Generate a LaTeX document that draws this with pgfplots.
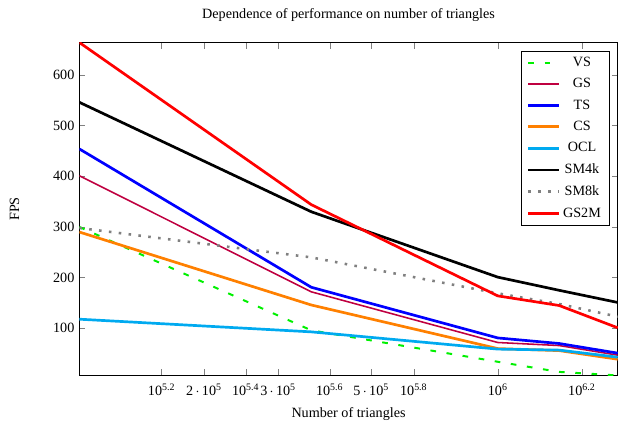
\documentclass[border=0pt]{standalone}
\usepackage{fontspec}
\setmainfont{Liberation Serif}
\usepackage{pgfplots}
\pgfplotsset{compat=1.18}
\usepackage{pgfplotstable}

\definecolor{vsgreen}{RGB}{0,240,0}
\definecolor{gspurple}{RGB}{191,0,64}
\definecolor{csorange}{RGB}{255,128,0}
\definecolor{oclcyan}{RGB}{0,170,240}

% triangles vs FPS for each shader variant
\pgfplotstableread{
tri     VS   GS   TS   CS   OCL  SM4k SM8k GS2M
101000  300  401  454  290  118  546  298  664
360000  96   172  181  146  93   330  240  344
1000000 34   72   81   60   59   201  169  164
1400000 14   66   70   56   57   175  148  145
1930000 7    47   51   39   43   151  123  101
}\perf

\begin{document}
\begin{tikzpicture}
\begin{axis}[
  xmode=log,
  scale only axis,
  width=380pt, height=235pt,
  xmin=101000, xmax=1930000,
  ymin=7, ymax=664,
  enlargelimits=false,
  title={Dependence of performance on number of triangles},
  title style={yshift=5pt},
  xlabel={Number of triangles},
  xlabel style={yshift=-1.5pt},
  ylabel={FPS},
  ylabel style={yshift=17pt},
  xtick={158489.3,251188.6,398107.2,630957.3,1000000,1584893.2},
  xticklabels={10\textsuperscript{5.2},10\textsuperscript{5.4},10\textsuperscript{5.6},10\textsuperscript{5.8},10\textsuperscript{6},10\textsuperscript{6.2}},
  extra x ticks={200000,300000,500000},
  extra x tick labels={2\,$\cdot$\,10\textsuperscript{5},3\,$\cdot$\,10\textsuperscript{5},5\,$\cdot$\,10\textsuperscript{5}},
  x tick label style={yshift=-2.5pt},
  ytick={100,200,300,400,500,600},
  /pgf/number format/assume math mode=true,
  legend cell align=center,
  legend style={font=\normalsize, row sep=3pt, inner xsep=4pt, at={(0.985,0.975)}},
  legend image code/.code={\draw[#1] plot coordinates {(0cm,0cm) (0.76cm,0cm)};},
]
\addplot[vsgreen, line width=1.4pt, dash pattern=on 4pt off 7.5pt] table[x=tri,y=VS] {\perf};
\addlegendentry{VS}
\addplot[gspurple, line width=1.1pt] table[x=tri,y=GS] {\perf};
\addlegendentry{GS}
\addplot[blue, line width=1.9pt] table[x=tri,y=TS] {\perf};
\addlegendentry{TS}
\addplot[csorange, line width=1.9pt] table[x=tri,y=CS] {\perf};
\addlegendentry{CS}
\addplot[oclcyan, line width=1.9pt] table[x=tri,y=OCL] {\perf};
\addlegendentry{OCL}
\addplot[black, line width=1.9pt] table[x=tri,y=SM4k] {\perf};
\addlegendentry{SM4k}
\addplot[gray, line width=1.8pt, dash pattern=on 1.8pt off 5.2pt] table[x=tri,y=SM8k] {\perf};
\addlegendentry{SM8k}
\addplot[red, line width=1.9pt] table[x=tri,y=GS2M] {\perf};
\addlegendentry{GS2M}
\end{axis}
\path (current axis.south west) ++(-56pt,0pt);
\path (current axis.north west) ++(0pt,30pt);
\end{tikzpicture}
\end{document}
